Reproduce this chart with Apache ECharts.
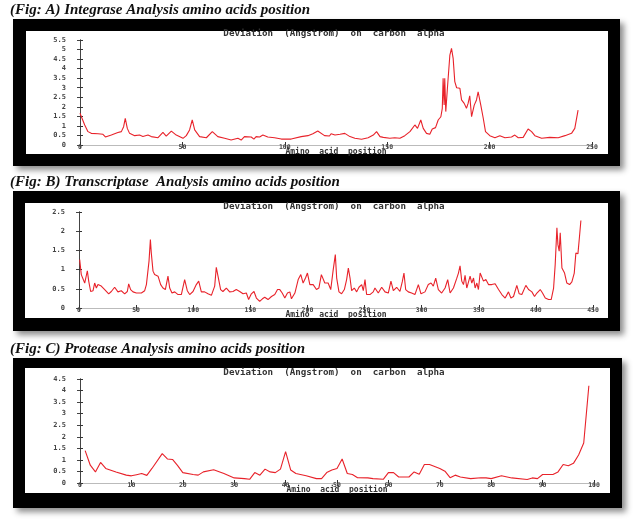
<!DOCTYPE html>
<html>
<head>
<meta charset="utf-8">
<script src="https://cdn.jsdelivr.net/npm/echarts@6/dist/echarts.min.js"></script>
<style>
  html, body { margin: 0; padding: 0; background: #fff; }
  #chart { width: 633px; height: 521px; }
</style>
</head>
<body>
<div id="chart"></div>
<script>
// Fig A - Integrase: residue position / deviation (Angstrom)
const integrasePos = [0,2.3,3.9,5.5,8.8,11.2,12.4,15.3,18.5,20.2,
  21.3,22.1,23.1,24.2,26.7,29.1,30.7,33.2,34.8,38.1,
  40.5,42.1,44.6,47,50.3,51.9,53.5,54.8,56,58.4,
  61.7,64.6,67.3,70.6,73.8,77.1,78.7,80.3,83.6,84.9,
  86,87.7,89.3,91.7,95,98.3,103.1,108,111.3,113.7,
  116.1,119.4,121.8,122.6,124.5,127,129.3,131.8,134.2,137.5,
  140.7,143.2,144.8,146.5,148.1,151.3,153.7,156.2,158.6,161.1,
  163.5,164.8,166.4,167.6,169.2,170.8,172,173.6,174.9,176.2,
  176.9,177.3,177.8,178.1,178.6,179.4,180.6,181.4,182.2,183,
  183.9,185.5,186.3,187.6,188.7,189.5,190.3,191.2,192.5,193.6,
  194.4,195.7,196.9,198,200.1,202.6,205,207.5,210.7,212.3,
  214,216.4,218.8,220.5,222.1,225.4,229.4,233.5,236.8,240,
  241.6,243.2];
const integraseDev = [1.66,1.05,0.7,0.61,0.59,0.56,0.42,0.52,0.65,0.7,
  0.96,1.4,0.87,0.61,0.49,0.52,0.45,0.52,0.44,0.38,
  0.66,0.47,0.73,0.52,0.35,0.49,0.79,1.31,0.79,0.44,
  0.38,0.7,0.44,0.35,0.26,0.35,0.26,0.44,0.42,0.31,
  0.44,0.42,0.52,0.42,0.38,0.31,0.31,0.44,0.49,0.59,
  0.73,0.49,0.47,0.59,0.52,0.56,0.61,0.44,0.35,0.3,
  0.38,0.52,0.7,0.44,0.4,0.35,0.38,0.35,0.49,0.7,
  1.05,0.87,1.31,0.87,0.61,0.56,0.84,0.91,1.31,1.48,
  1.92,3.49,2.09,3.49,1.75,2.97,4.71,5.06,4.54,3.32,
  3.0,2.97,2.36,2.18,1.92,2.18,2.58,1.48,2.09,2.36,
  2.79,2.09,1.4,0.7,0.49,0.38,0.49,0.38,0.42,0.52,
  0.38,0.4,0.84,0.7,0.49,0.35,0.4,0.38,0.49,0.61,
  0.87,1.83];

// Fig B - Transcriptase
const transcriptasePos = [0.6,2,3.5,5,6.4,7.3,8.5,10.2,12.3,13.7,
  15.2,16.6,19.5,22.5,26,28.3,31.2,34.1,37,40,
  42.3,43.5,45.2,47.3,50.2,54.6,57.5,59,60.4,61.3,
  62.5,63.3,64.8,66.2,67.7,69.2,71.5,73.5,75.6,77.9,
  79.4,81.4,83.8,86.7,89.6,92.5,94.8,96.9,99.8,102.7,
  104.8,107.1,110,112.9,115.9,118.8,120.2,121.7,124,126,
  129,131.9,134.8,137.7,140.7,143.6,146.5,148.5,150.9,153.2,
  155.3,158.2,160.6,162.6,165.5,168.5,171.4,173.8,175.8,177.9,
  180.2,182.5,184.6,186,189,191.9,194.2,196.2,198.3,200,
  202.1,205,207.9,210,212.2,215.2,218.1,220.4,222.4,224.4,
  225.6,227.6,229.9,232.3,234.3,235.8,237.3,238.7,241,243.1,
  245.1,247.5,248.9,250.4,251.8,254.7,257.6,259.1,262,265,
  267.9,270.8,273.1,275.2,278.1,281,283,284.5,286,288.3,
  291.2,294.1,297.1,299.4,302.9,305.8,308.2,310.2,312.3,314.6,
  317.5,320.5,322.8,324.9,327.8,330.7,332.2,333.6,335.1,336.6,
  338,339.5,341,342.4,343.9,345.4,346.8,348.3,349.7,351.2,
  352.7,354.1,356.2,358.5,361.4,364.3,367.3,370.2,373.1,376,
  378.1,380.4,383.3,385.4,387.7,391.2,393.6,396.5,398.8,400.9,
  403.8,405.8,408.2,411.1,413.4,415.5,416.9,418.4,419.3,420.4,
  421.3,422.8,425.1,427.1,429.5,431.5,433.6,435,436.8,438.2,
  439.4];
const transcriptaseDev = [1.26,0.87,0.83,0.65,0.61,0.97,0.7,0.43,0.45,0.65,
  0.52,0.61,0.57,0.48,0.37,0.43,0.54,0.42,0.45,0.37,
  0.43,0.63,0.48,0.42,0.39,0.39,0.45,0.61,0.57,1.22,
  1.78,1.43,0.96,0.87,0.91,0.83,0.61,0.52,0.48,0.83,
  0.52,0.39,0.42,0.35,0.35,0.74,0.45,0.35,0.43,0.61,
  0.7,0.42,0.42,0.37,0.33,0.57,1.06,0.83,0.48,0.43,
  0.52,0.42,0.43,0.48,0.43,0.37,0.39,0.22,0.37,0.43,
  0.26,0.17,0.24,0.28,0.22,0.3,0.35,0.48,0.48,0.39,
  0.26,0.39,0.42,0.24,0.39,0.74,0.87,0.65,0.78,0.91,
  0.61,0.61,0.48,0.52,0.87,0.65,0.65,0.48,0.96,1.39,
  0.78,0.42,0.37,0.48,0.74,1.04,0.78,0.45,0.52,0.42,
  0.54,0.61,0.45,0.74,0.35,0.35,0.42,0.52,0.39,0.54,
  0.42,0.39,0.7,0.45,0.54,0.43,0.68,0.91,0.48,0.42,
  0.39,0.35,0.61,0.37,0.42,0.61,0.65,0.57,0.78,0.48,
  0.39,0.52,0.74,0.39,0.52,0.77,0.91,1.1,0.7,0.61,
  0.85,0.52,0.48,0.83,0.65,0.78,0.52,0.65,0.48,0.91,
  0.87,0.7,0.74,0.61,0.61,0.63,0.48,0.35,0.26,0.42,
  0.26,0.3,0.59,0.37,0.35,0.59,0.48,0.42,0.3,0.39,
  0.48,0.39,0.26,0.22,0.22,0.52,1.13,2.09,1.65,1.48,
  1.96,1.04,0.91,0.65,0.61,0.68,0.91,1.43,1.41,1.87,
  2.28];

// Fig C - Protease
const proteasePos = [1,2,3,4,5,7,9,10,11,12,
  13,14,16,17,18,19,20,22,23,24,
  26,28,30,32,33,34,35,36,37,38,
  39,40,41,42,44,46,47,48,49,50,
  51,52,53,54,56,57,59,60,61,62,
  64,65,66,67,68,70,71,72,73,74,
  76,78,79,80,82,84,87,88,89,90,
  92,93,94,95,96,97,98,99];
const proteaseDev = [1.4,0.77,0.48,0.89,0.63,0.48,0.34,0.31,0.36,0.41,
  0.33,0.63,1.27,1.04,1.02,0.75,0.45,0.37,0.34,0.48,
  0.57,0.41,0.22,0.19,0.16,0.45,0.34,0.6,0.48,0.45,
  0.6,1.36,0.56,0.41,0.31,0.19,0.19,0.45,0.56,0.63,
  1.04,0.41,0.37,0.23,0.22,0.19,0.16,0.45,0.45,0.26,
  0.26,0.48,0.38,0.8,0.8,0.63,0.51,0.23,0.34,0.26,
  0.19,0.23,0.22,0.19,0.31,0.22,0.15,0.22,0.19,0.37,
  0.37,0.48,0.8,0.75,0.85,1.21,1.73,4.21];

const figTitles = [
  "(Fig: A) Integrase Analysis amino acids position",
  "(Fig: B) Transcriptase  Analysis amino acids position",
  "(Fig: C) Protease Analysis amino acids position"
];
const plotTitle = "Deviation  (Angstrom)  on  carbon  alpha";
const xName = "Amino  acid  position";
const xMax = [250, 450, 100];
const xStep = [50, 50, 10];
const yMax = [5.5, 2.5, 4.5];

const panels = [
  { frame: [13, 19, 607, 147], inner: [26, 31, 582, 123], grid: [80, 40, 512, 105], titleY: 10, plotTitleY: 34 },
  { frame: [13, 191, 607, 140], inner: [25, 203, 583, 115], grid: [79, 212, 514, 96], titleY: 182, plotTitleY: 207 },
  { frame: [13, 358, 609, 150], inner: [25, 368, 585, 125], grid: [80, 379, 514, 104], titleY: 349, plotTitleY: 373 }
];
const seriesPos = [integrasePos, transcriptasePos, proteasePos];
const seriesDev = [integraseDev, transcriptaseDev, proteaseDev];

const tinyFont = { fontFamily: "DejaVu Sans Mono", fontWeight: "bold", fontSize: 6.5, color: "#444" };

const chart = echarts.init(document.getElementById("chart"), null, { renderer: "canvas" });

const grids = [], xAxes = [], yAxes = [], series = [], graphics = [];

panels.forEach((p, i) => {
  grids.push({ left: p.grid[0], top: p.grid[1], width: p.grid[2], height: p.grid[3] });

  // bottom axis with labels
  xAxes.push({
    type: "value", gridIndex: i, min: 0, max: xMax[i], interval: xStep[i], z: 5,
    axisLine: { lineStyle: { color: "#333", width: 1 } },
    axisTick: { inside: true, length: 3, lineStyle: { color: "#333" } },
    axisLabel: Object.assign({ margin: -1 }, tinyFont),
    splitLine: { show: false }
  });
  // top mirror axis
  xAxes.push({
    type: "value", gridIndex: i, position: "top", min: 0, max: xMax[i], interval: xStep[i], z: 5,
    axisLine: { show: true, lineStyle: { color: "#bbb", width: 1 } },
    axisTick: { show: true, inside: true, length: 3, lineStyle: { color: "#555" } },
    axisLabel: { show: false },
    splitLine: { show: false }
  });
  yAxes.push({
    type: "value", gridIndex: i, min: 0, max: yMax[i], interval: 0.5, z: 5,
    axisLine: { show: true, lineStyle: { color: "#333", width: 1 } },
    axisTick: { show: true, inside: true, length: 3, lineStyle: { color: "#333" } },
    axisLabel: Object.assign({ margin: 14 }, tinyFont, { fontSize: 7 }),
    splitLine: { show: false }
  });
  yAxes.push({
    type: "value", gridIndex: i, position: "right", min: 0, max: yMax[i], interval: 0.5, z: 5,
    axisLine: { show: true, lineStyle: { color: "#444", width: 1 } },
    axisTick: { show: true, inside: true, length: 3, lineStyle: { color: "#444" } },
    axisLabel: { show: false },
    splitLine: { show: false }
  });

  series.push({
    type: "line",
    xAxisIndex: i * 2,
    yAxisIndex: i * 2,
    data: seriesPos[i].map((x, k) => [x, seriesDev[i][k]]),
    showSymbol: false,
    symbol: "none",
    z: 6,
    lineStyle: { color: "#e8222a", width: 1.1 }
  });

  graphics.push({
    type: "rect", z: 1,
    shape: { x: p.frame[0], y: p.frame[1], width: p.frame[2], height: p.frame[3] },
    style: { fill: "#000", shadowBlur: 6, shadowOffsetX: 4, shadowOffsetY: 4, shadowColor: "rgba(0,0,0,0.45)" }
  });
  graphics.push({
    type: "rect", z: 2,
    shape: { x: p.inner[0], y: p.inner[1], width: p.inner[2], height: p.inner[3] },
    style: { fill: "#fff" }
  });
  graphics.push({
    type: "text", z: 10,
    style: { text: figTitles[i], x: 10, y: p.titleY, fill: "#111",
      font: 'italic bold 15px "Liberation Serif"', verticalAlign: "middle" }
  });
  graphics.push({
    type: "text", z: 10,
    style: { text: plotTitle, x: 334, y: p.plotTitleY, fill: "#333",
      font: 'bold 9.2px "DejaVu Sans Mono"', align: "center", verticalAlign: "middle" }
  });
  // axis name, just under the tick labels
  graphics.push({
    type: "text", z: 10,
    style: { text: xName, x: p.grid[0] + p.grid[2] / 2, y: p.grid[1] + p.grid[3] + 7, fill: "#333",
      font: 'bold 8px "DejaVu Sans Mono"', align: "center", verticalAlign: "middle" }
  });
});

chart.setOption({
  backgroundColor: "#fff",
  animation: false,
  grid: grids,
  xAxis: xAxes,
  yAxis: yAxes,
  series: series,
  graphic: graphics
});
</script>
</body>
</html>
